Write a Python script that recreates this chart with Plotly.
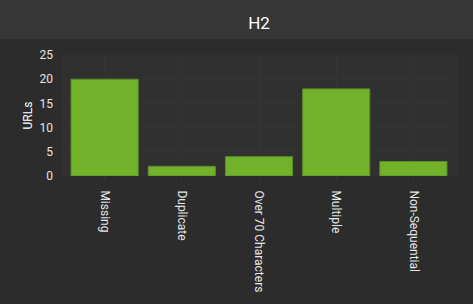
import plotly.graph_objects as go

categories = ["Missing", "Duplicate", "Over 70 Characters", "Multiple", "Non-Sequential"]
values = [20, 2, 4, 18, 3]
y_ticks = [0, 5, 10, 15, 20, 25]

W, H = 473, 304
L, R, T, B = 66, 21, 55, 126
pw, ph = W - L - R, H - T - B

fig = go.Figure(go.Bar(
    x=categories, y=values,
    marker=dict(color="#72b22a", line=dict(color="#5c8c2a", width=1)),
))

shapes = [
    # header band
    dict(type="rect", xref="paper", yref="paper", layer="below",
         x0=-L / pw, x1=1 + R / pw, y0=1 + (T - 39) / ph, y1=1 + T / ph + 0.01,
         fillcolor="#363636", line=dict(width=0)),
    # plot background box
    dict(type="rect", xref="paper", yref="paper", layer="below",
         x0=(62 - L) / pw, x1=(458 - L) / pw, y0=0, y1=1,
         fillcolor="#303030", line=dict(width=0)),
]

fig.update_layout(
    width=W, height=H,
    margin=dict(l=L, r=R, t=T, b=B),
    paper_bgcolor="#2c2c2c",
    plot_bgcolor="rgba(0,0,0,0)",
    font=dict(family="Roboto", color="#e6e6e6", size=12),
    title=dict(text="H2", x=0.5, xref="paper", y=1 - 23 / H, yanchor="middle",
               font=dict(size=17, color="#ffffff")),
    bargap=0.13,
    shapes=shapes,
    showlegend=False,
    xaxis=dict(tickangle=90, showgrid=True, gridcolor="#343434", ticks="outside",
               ticklen=3, tickcolor="#3a3a3a", showline=False, zeroline=False,
               ticklabelstandoff=8,
               tickfont=dict(size=12, color="#e6e6e6")),
    yaxis=dict(range=[0, 25], tickvals=y_ticks, showgrid=True, gridcolor="#343434",
               zeroline=False, showline=False, ticklabelstandoff=12,
               title=dict(text="URLs", font=dict(size=12, color="#ffffff"), standoff=4),
               tickfont=dict(size=12, color="#e6e6e6")),
)

fig.write_html("out.html")
